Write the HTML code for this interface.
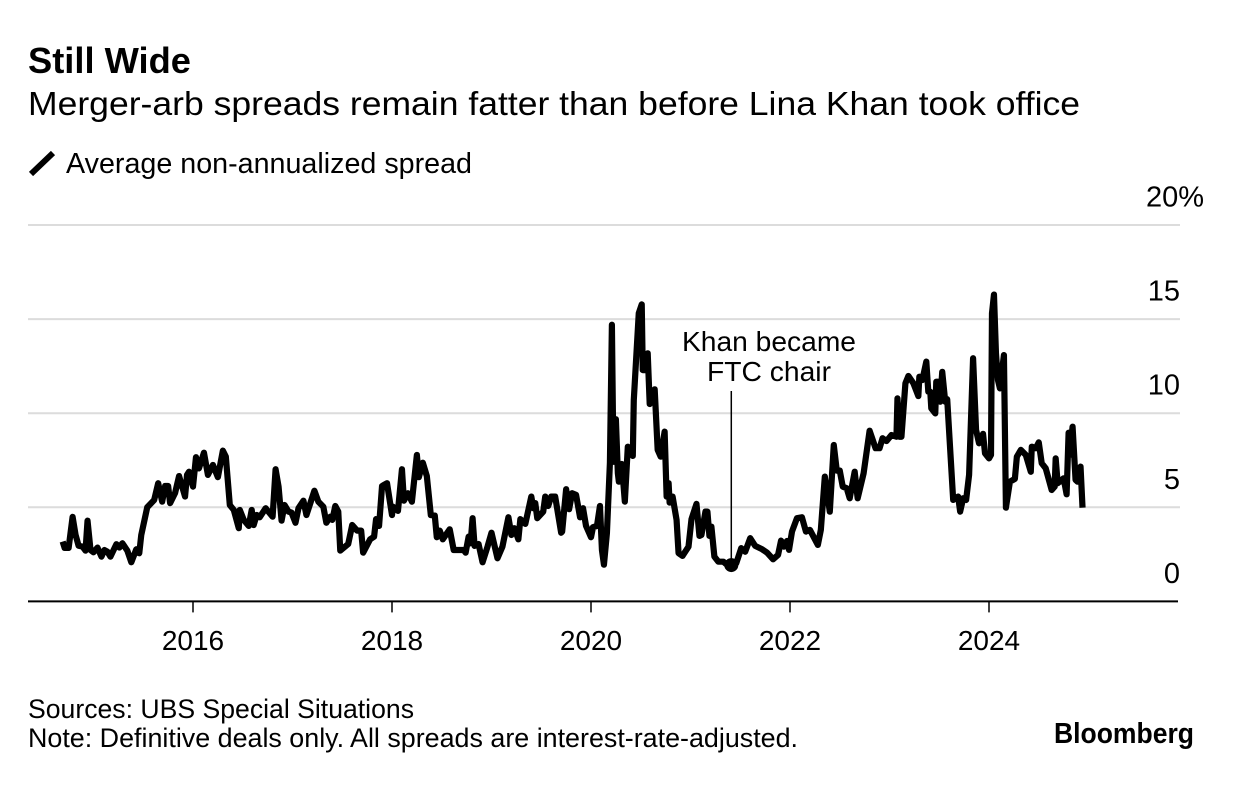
<!DOCTYPE html>
<html lang="en">
<head>
<meta charset="utf-8">
<title>Still Wide</title>
<style>
html,body{margin:0;padding:0;background:#fff;width:1233px;height:794px;overflow:hidden}
svg{display:block;font-family:"Liberation Sans",Arial,sans-serif;fill:#000}
</style>
</head>
<body>
<svg id="chart" xmlns="http://www.w3.org/2000/svg" width="1233" height="794" viewBox="0 0 1233 794">
  <rect x="0" y="0" width="1233" height="794" fill="#fff"/>
  <text x="28" y="73" font-size="36.5" font-weight="700" textLength="163" lengthAdjust="spacingAndGlyphs">Still Wide</text>
  <text x="28" y="115" font-size="33.5" textLength="1052" lengthAdjust="spacingAndGlyphs">Merger-arb spreads remain fatter than before Lina Khan took office</text>
  <line x1="31" y1="174" x2="53" y2="153" stroke="#000" stroke-width="6"/>
  <text x="66" y="173" font-size="29" textLength="406" lengthAdjust="spacingAndGlyphs">Average non-annualized spread</text>
  <g id="grid"></g>
  <g id="yLabels"></g>
  <g id="xAxis"></g>
  <path id="spreadLine" fill="none" stroke="#000" stroke-width="6.2" stroke-linejoin="round" stroke-linecap="butt"/>
  <line id="annotationLine" stroke="#000" stroke-width="1.5"/>
  <circle id="annotationDot" r="7" fill="#000"/>
  <text x="769" y="351" font-size="28" text-anchor="middle" textLength="174" lengthAdjust="spacingAndGlyphs">Khan became</text>
  <text x="769" y="381" font-size="28" text-anchor="middle" textLength="124" lengthAdjust="spacingAndGlyphs">FTC chair</text>
  <text x="28" y="718" font-size="27" textLength="386" lengthAdjust="spacingAndGlyphs">Sources: UBS Special Situations</text>
  <text x="28" y="747" font-size="27" textLength="770" lengthAdjust="spacingAndGlyphs">Note: Definitive deals only. All spreads are interest-rate-adjusted.</text>
  <text x="1054" y="743" font-size="29" font-weight="700" textLength="140" lengthAdjust="spacingAndGlyphs">Bloomberg</text>
</svg>
<script>
const years = [2014.69,2014.71,2014.75,2014.79,2014.82,2014.85,2014.89,2014.92,2014.94,2014.97,2015.00,2015.04,2015.08,2015.11,2015.14,2015.17,2015.23,2015.26,2015.29,2015.34,2015.38,2015.43,2015.46,2015.48,2015.54,2015.61,2015.65,2015.69,2015.72,2015.75,2015.77,2015.82,2015.86,2015.92,2015.94,2015.96,2016.00,2016.03,2016.06,2016.11,2016.15,2016.20,2016.25,2016.30,2016.33,2016.37,2016.41,2016.46,2016.47,2016.51,2016.56,2016.59,2016.61,2016.64,2016.67,2016.73,2016.80,2016.83,2016.86,2016.89,2016.92,2016.96,2016.99,2017.03,2017.06,2017.11,2017.14,2017.22,2017.26,2017.31,2017.34,2017.38,2017.40,2017.43,2017.46,2017.48,2017.56,2017.60,2017.65,2017.69,2017.71,2017.78,2017.82,2017.84,2017.87,2017.90,2017.95,2018.00,2018.01,2018.06,2018.10,2018.12,2018.16,2018.20,2018.25,2018.27,2018.31,2018.35,2018.39,2018.43,2018.45,2018.48,2018.51,2018.58,2018.62,2018.72,2018.74,2018.77,2018.79,2018.81,2018.83,2018.87,2018.91,2018.96,2019.00,2019.06,2019.11,2019.17,2019.20,2019.23,2019.27,2019.29,2019.34,2019.40,2019.42,2019.44,2019.46,2019.52,2019.54,2019.57,2019.60,2019.64,2019.70,2019.71,2019.75,2019.78,2019.81,2019.85,2019.89,2019.92,2019.95,2020.00,2020.02,2020.06,2020.09,2020.11,2020.13,2020.16,2020.19,2020.21,2020.22,2020.23,2020.25,2020.27,2020.28,2020.31,2020.34,2020.37,2020.42,2020.43,2020.48,2020.51,2020.52,2020.54,2020.57,2020.59,2020.64,2020.67,2020.70,2020.74,2020.76,2020.78,2020.79,2020.82,2020.86,2020.88,2020.92,2020.98,2021.01,2021.06,2021.09,2021.11,2021.15,2021.17,2021.19,2021.21,2021.24,2021.28,2021.33,2021.38,2021.43,2021.46,2021.51,2021.55,2021.60,2021.65,2021.72,2021.77,2021.83,2021.88,2021.91,2021.94,2021.97,2021.99,2022.02,2022.07,2022.12,2022.16,2022.20,2022.28,2022.31,2022.35,2022.40,2022.44,2022.47,2022.50,2022.53,2022.57,2022.60,2022.65,2022.68,2022.74,2022.80,2022.86,2022.90,2022.93,2022.97,2023.02,2023.07,2023.08,2023.10,2023.12,2023.16,2023.19,2023.24,2023.29,2023.30,2023.33,2023.37,2023.39,2023.41,2023.42,2023.46,2023.47,2023.49,2023.51,2023.53,2023.56,2023.58,2023.64,2023.69,2023.71,2023.74,2023.77,2023.80,2023.84,2023.87,2023.90,2023.94,2023.96,2024.00,2024.02,2024.03,2024.05,2024.07,2024.09,2024.11,2024.15,2024.17,2024.21,2024.26,2024.28,2024.32,2024.37,2024.42,2024.43,2024.47,2024.50,2024.53,2024.57,2024.63,2024.66,2024.67,2024.69,2024.75,2024.78,2024.80,2024.81,2024.84,2024.87,2024.89,2024.92,2024.94];
const spreads = [3.18,2.84,2.84,4.49,3.53,2.96,2.91,2.70,4.29,2.73,2.61,2.86,2.38,2.73,2.64,2.38,3.04,2.86,3.09,2.70,2.08,2.77,2.56,3.53,5.00,5.39,6.28,5.30,6.13,6.13,5.22,5.76,6.66,5.57,6.72,6.89,6.10,7.66,7.07,7.90,6.72,7.25,6.60,8.01,7.69,5.12,4.86,3.89,4.86,4.33,4.01,4.86,4.06,4.59,4.47,4.95,4.50,7.02,6.10,4.29,5.12,4.77,4.72,4.18,4.95,5.35,4.59,5.88,5.30,5.03,4.18,4.50,4.33,5.07,4.77,2.70,3.05,4.06,3.76,3.76,2.59,3.30,3.44,4.37,4.01,6.13,6.28,4.59,5.03,4.81,7.02,5.35,5.75,5.30,7.78,6.60,7.37,6.66,4.59,4.56,3.41,3.76,3.30,3.83,2.73,2.73,2.59,3.44,3.09,4.42,2.95,3.05,2.08,2.91,3.65,2.29,2.91,4.47,3.53,3.89,3.30,4.37,4.12,5.57,4.95,5.22,4.42,4.77,5.57,5.07,5.57,5.57,3.65,3.71,5.96,4.90,5.75,5.66,4.47,4.95,4.01,3.41,3.94,4.01,5.07,2.73,1.95,3.64,7.36,14.70,10.01,7.42,9.68,6.81,6.36,7.30,5.30,8.22,7.73,10.70,15.31,15.78,12.29,12.29,13.18,10.49,11.27,8.05,7.69,9.02,5.57,6.28,5.25,5.57,4.33,2.56,2.42,2.91,4.37,5.18,3.48,3.53,4.77,4.77,3.48,3.97,2.38,2.11,2.11,1.89,1.89,2.03,2.83,2.64,3.36,2.95,2.77,2.59,2.24,2.47,3.23,2.91,3.21,2.74,3.71,4.42,4.47,3.71,3.80,3.00,3.80,6.63,4.77,8.31,6.95,6.95,6.10,6.01,5.48,6.89,5.48,6.81,9.07,8.14,8.14,8.67,8.52,8.84,8.75,10.79,8.75,8.75,11.59,11.98,11.59,10.91,11.94,11.76,12.74,11.14,11.14,10.26,9.99,11.67,11.67,10.61,12.20,10.61,10.74,5.39,5.57,4.77,5.48,5.39,6.72,12.92,9.11,8.40,8.90,7.87,7.60,7.78,15.31,16.30,13.18,11.76,11.32,13.09,4.98,6.36,6.51,7.69,8.05,7.78,6.89,8.22,8.14,8.45,7.34,7.07,5.92,6.10,7.60,6.28,6.54,5.69,8.96,7.78,9.28,6.46,6.36,7.16,4.98];
const yTicks = [0,5,10,15,20];
const yTickLabels = ["0","5","10","15","20%"];
const xTicks = [2016,2018,2020,2022,2024];
const xTickLabels = ["2016","2018","2020","2022","2024"];
const khanYear = [2021.41];
const khanSpread = [1.93];

const NS = "http://www.w3.org/2000/svg";
function xScale(year){ return 193 + (year - 2016) * 99.5; }
function yScale(value){ return 601.4 - value * 18.82; }

const grid = document.getElementById("grid");
const yLabels = document.getElementById("yLabels");
yTicks.forEach(function(tick, i){
  if (tick !== 0) {
    const gridLine = document.createElementNS(NS, "line");
    
    
    gridLine.setAttribute("x1", 28);
    gridLine.setAttribute("x2", 1180);
    gridLine.setAttribute("y1", yScale(tick));
    gridLine.setAttribute("y2", yScale(tick));
    gridLine.setAttribute("stroke", "#dcdcdc");
    gridLine.setAttribute("stroke-width", 2);
    grid.appendChild(gridLine);
  }
  const label = document.createElementNS(NS, "text");
  
  
  label.setAttribute("x", tick === 20 ? 1204 : 1180);
  label.setAttribute("y", yScale(tick) - 18.5);
  label.setAttribute("font-size", 29);
  label.setAttribute("text-anchor", "end");
  label.textContent = yTickLabels[i];
  yLabels.appendChild(label);
});

const xAxis = document.getElementById("xAxis");
const axisLine = document.createElementNS(NS, "line");


axisLine.setAttribute("x1", 28);
axisLine.setAttribute("x2", 1178);
axisLine.setAttribute("y1", yScale(0));
axisLine.setAttribute("y2", yScale(0));
axisLine.setAttribute("stroke", "#000");
axisLine.setAttribute("stroke-width", 2);
xAxis.appendChild(axisLine);

xTicks.forEach(function(tick, i){
  const mark = document.createElementNS(NS, "line");
  
  
  mark.setAttribute("x1", xScale(tick));
  mark.setAttribute("x2", xScale(tick));
  mark.setAttribute("y1", yScale(0));
  mark.setAttribute("y2", yScale(0) + 11);
  mark.setAttribute("stroke", "#000");
  mark.setAttribute("stroke-width", 1.5);
  xAxis.appendChild(mark);
  const label = document.createElementNS(NS, "text");
  
  
  label.setAttribute("x", xScale(tick));
  label.setAttribute("y", 650);
  label.setAttribute("font-size", 28);
  label.setAttribute("text-anchor", "middle");
  label.textContent = xTickLabels[i];
  xAxis.appendChild(label);
});

let d = "";
years.forEach(function(year, i){
  d += (i ? "L" : "M") + xScale(year).toFixed(2) + " " + yScale(spreads[i]).toFixed(2);
});
document.getElementById("spreadLine").setAttribute("d", d);

const leader = document.getElementById("annotationLine");
leader.setAttribute("x1", xScale(khanYear[0]));
leader.setAttribute("x2", xScale(khanYear[0]));
leader.setAttribute("y1", 391);
leader.setAttribute("y2", yScale(khanSpread[0]));
const dot = document.getElementById("annotationDot");
dot.setAttribute("cx", xScale(khanYear[0]));
dot.setAttribute("cy", yScale(khanSpread[0]));
</script>
</body>
</html>
